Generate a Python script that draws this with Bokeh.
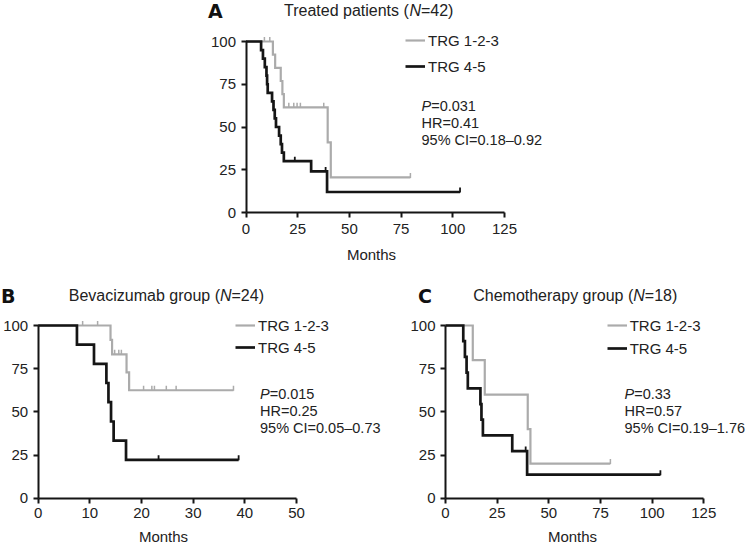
import numpy as np
from bokeh.plotting import figure
from bokeh.models import Label, Legend, LegendItem, Spacer
from bokeh.layouts import column, row
from bokeh.embed import file_html
from bokeh.resources import INLINE

# ---------------- data ----------------
# Panel A: Treated patients (N=42)
a_g_time = [0, 13.0, 14.1, 16.8, 17.6, 18.3, 39.5, 41.0, 79.5]
a_g_surv = [100, 92.3, 84.6, 76.9, 69.2, 61.5, 41.0, 20.5, 20.5]
a_g_cens = [8.9, 11.5, 20.7, 23.1, 24.7, 26.3, 37.6, 79.5]
a_k_time = [0, 7.3, 8.2, 9.1, 9.9, 10.2, 10.5, 12.6, 13.3, 13.9, 14.5, 16.0,
            16.8, 17.4, 18.3, 31.5, 39.2, 103.5]
a_k_surv = [100, 95, 90, 85, 80, 75, 70, 65, 60, 55, 50, 45, 40, 35, 30, 24, 12, 12]
a_k_cens = [23.6, 38.5, 103.5]

# Panel B: Bevacizumab group (N=24)
b_g_time = [0, 14.0, 14.3, 17.1, 17.6, 37.8]
b_g_surv = [100, 91.7, 83.3, 72.9, 62.5, 62.5]
b_g_cens = [8.6, 11.5, 14.8, 15.6, 16.1, 20.4, 22.0, 22.5, 24.8, 26.7, 37.8]
b_k_time = [0, 7.5, 10.8, 13.2, 13.6, 14.1, 14.6, 17.0, 38.8]
b_k_surv = [100, 88.9, 77.8, 66.7, 55.6, 44.4, 33.3, 22.2, 22.2]
b_k_cens = [23.3, 38.8]

# Panel C: Chemotherapy group (N=18)
c_g_time = [0, 13.2, 19.0, 39.8, 41.1, 79.8]
c_g_surv = [100, 80, 60, 40, 20, 20]
c_g_cens = [79.8]
c_k_time = [0, 8.6, 9.4, 10.2, 10.8, 16.9, 17.4, 18.1, 32.3, 39.5, 104.0]
c_k_surv = [100, 90.9, 81.8, 72.7, 63.6, 54.5, 45.5, 36.4, 27.3, 13.6, 13.6]
c_k_cens = [38.8, 104.0]

series_labels = ["TRG 1-2-3", "TRG 4-5"]
y_ticks = [0, 25, 50, 75, 100]
a_x_ticks = [0, 25, 50, 75, 100, 125]
b_x_ticks = [0, 10, 20, 30, 40, 50]
c_x_ticks = [0, 25, 50, 75, 100, 125]

a_stats = ["=0.031", "HR=0.41", "95% CI=0.18\u20130.92"]
b_stats = ["=0.015", "HR=0.25", "95% CI=0.05\u20130.73"]
c_stats = ["=0.33", "HR=0.57", "95% CI=0.19\u20131.76"]

# ---------------- styling helpers ----------------
FONT = "Liberation Sans"
LETTER_FONT = "DejaVu Sans"
GRAY = "#ababab"
BLACK = "#151515"
TXT = "#222222"

W = {' ': 278, '(': 333, ')': 333, '=': 584, '.': 278, '%': 889, '\u2013': 556,
     '-': 333, 'A': 667, 'B': 667, 'C': 722, 'I': 278, 'N': 722, 'P': 667,
     'H': 722, 'R': 722, 'T': 611, 'G': 778, 'a': 556, 'b': 556, 'c': 500,
     'd': 556, 'e': 556, 'g': 556, 'h': 556, 'i': 222, 'm': 833, 'n': 556,
     'o': 556, 'p': 556, 'r': 333, 's': 500, 't': 278, 'u': 556, 'v': 500,
     'y': 500, 'z': 500}


def tw(s, size):
    return sum(W.get(ch, 556) for ch in s) / 1000.0 * size


class Panel:
    """Figure whose frame covers its whole box; axes drawn at data 0."""

    def __init__(self, box, origin, scale, xmax, xticks, x_standoff):
        fl, ft, fw, fh = box
        ox, oy = origin
        sx, sy = scale
        self.ox, self.oy, self.fl, self.ft, self.fw, self.fh = ox, oy, fl, ft, fw, fh
        p = figure(x_range=((fl - ox) / sx, (fl + fw - ox) / sx),
                   y_range=((oy - (ft + fh)) / sy, (oy - ft) / sy),
                   frame_width=fw, frame_height=fh,
                   min_border_left=0, min_border_right=0,
                   min_border_top=0, min_border_bottom=0,
                   output_backend="svg", toolbar_location=None)
        p.outline_line_color = None
        p.border_fill_color = "white"
        p.xgrid.visible = False
        p.ygrid.visible = False
        for ax in (p.xaxis[0], p.yaxis[0]):
            ax.fixed_location = 0
            ax.axis_line_width = 2
            ax.axis_line_color = BLACK
            ax.major_tick_line_width = 2
            ax.major_tick_line_color = BLACK
            ax.major_tick_out = 5
            ax.major_tick_in = 0
            ax.minor_tick_line_color = None
            ax.major_label_text_font = FONT
            ax.major_label_text_font_size = "15px"
            ax.major_label_text_color = TXT
        p.xaxis.major_label_standoff = x_standoff
        p.yaxis.major_label_standoff = 5
        p.xaxis.ticker = xticks
        p.yaxis.ticker = y_ticks
        p.xaxis.bounds = (0, xmax)
        p.yaxis.bounds = (0, 100)
        self.p = p

    def curves(self, g_time, g_surv, g_cens, k_time, k_surv, k_cens,
               legend_xy, legend_spacing):
        p = self.p
        rg = p.step(x=g_time, y=g_surv, mode="after", line_color=GRAY,
                    line_width=2.2, line_join="miter")
        gi = np.searchsorted(g_time, g_cens, side="right") - 1
        p.scatter(x=g_cens, y=np.array(g_surv)[gi] + 1.2, marker="dash",
                  angle=np.pi / 2, size=5, line_color=GRAY, line_width=1.5)
        rk = p.step(x=k_time, y=k_surv, mode="after", line_color=BLACK,
                    line_width=2.7, line_join="miter")
        ki = np.searchsorted(k_time, k_cens, side="right") - 1
        p.scatter(x=k_cens, y=np.array(k_surv)[ki] + 1.2, marker="dash",
                  angle=np.pi / 2, size=5, line_color=BLACK, line_width=1.8)
        gx, bottom_y = legend_xy
        legend = Legend(items=[LegendItem(label=series_labels[0], renderers=[rg]),
                               LegendItem(label=series_labels[1], renderers=[rk])],
                        location=(gx - self.fl, self.ft + self.fh - bottom_y),
                        orientation="vertical",
                        border_line_color=None, background_fill_alpha=0,
                        padding=0, margin=0, spacing=legend_spacing,
                        glyph_width=20, glyph_height=20, label_height=20,
                        label_standoff=3, label_text_font=FONT,
                        label_text_font_size="15px", label_text_color=TXT)
        p.add_layout(legend)

    def text(self, text, X, Y, size, style="normal", align="left", font=FONT,
             color=TXT):
        self.p.add_layout(Label(x=0, y=0, x_offset=X - self.ox, y_offset=self.oy - Y,
                                text=text, text_font=font,
                                text_font_size=f"{size}px",
                                text_font_style=style, text_color=color,
                                text_baseline="middle", text_align=align))

    def letter(self, text, X, Y):
        self.text(text, X, Y, 19, "bold", font=LETTER_FONT, color="#111111")

    def rich(self, parts, X, Y, size):
        for text, style in parts:
            self.text(text, X, Y, size, style)
            X += tw(text, size)


# ---------------- Panel A ----------------
A = Panel((190, 0, 557, 270), (245.5, 212), (258.5 / 125, 171 / 100),
          125, a_x_ticks, 6)
A.curves(a_g_time, a_g_surv, a_g_cens, a_k_time, a_k_surv, a_k_cens, (405, 76), 6)
A.letter("A", 207.5, 10)
A.rich([("Treated patients (", "normal"), ("N", "italic"), ("=42)", "normal")],
       283.5, 9.5, 16)
A.rich([("P", "italic"), (a_stats[0], "normal")], 421, 105, 14.5)
A.text(a_stats[1], 421, 122, 14.5)
A.text(a_stats[2], 421, 139, 14.5)
A.text("Months", 371, 254, 15, align="center")

# ---------------- Panel B ----------------
B = Panel((0, 270, 392, 276), (37.7, 497.7), (258.3 / 50, 172.7 / 100),
          50, b_x_ticks, 5)
B.curves(b_g_time, b_g_surv, b_g_cens, b_k_time, b_k_surv, b_k_cens, (235, 357.3), 2)
B.letter("B", 0.5, 295)
B.rich([("Bevacizumab group (", "normal"), ("N", "italic"), ("=24)", "normal")],
       68.3, 295, 16)
B.rich([("P", "italic"), (b_stats[0], "normal")], 259.5, 393.3, 14.5)
B.text(b_stats[1], 259.5, 410.5, 14.5)
B.text(b_stats[2], 259.5, 427.3, 14.5)
B.text("Months", 163, 536, 15, align="center")

# ---------------- Panel C ----------------
C = Panel((392, 270, 355, 276), (445, 497.7), (258.3 / 125, 172.7 / 100),
          125, c_x_ticks, 5)
C.curves(c_g_time, c_g_surv, c_g_cens, c_k_time, c_k_surv, c_k_cens, (606.7, 358.3), 3)
C.letter("C", 417.5, 295)
C.rich([("Chemotherapy group (", "normal"), ("N", "italic"), ("=18)", "normal")],
       472.7, 295, 16)
C.rich([("P", "italic"), (c_stats[0], "normal")], 624, 393.3, 14.5)
C.text(c_stats[1], 624, 410.5, 14.5)
C.text(c_stats[2], 624, 427.3, 14.5)
C.text("Months", 572, 536, 15, align="center")

layout = column(row(Spacer(width=190, height=270), A.p), row(B.p, C.p))
open("out.html", "w").write(file_html(layout, INLINE))
